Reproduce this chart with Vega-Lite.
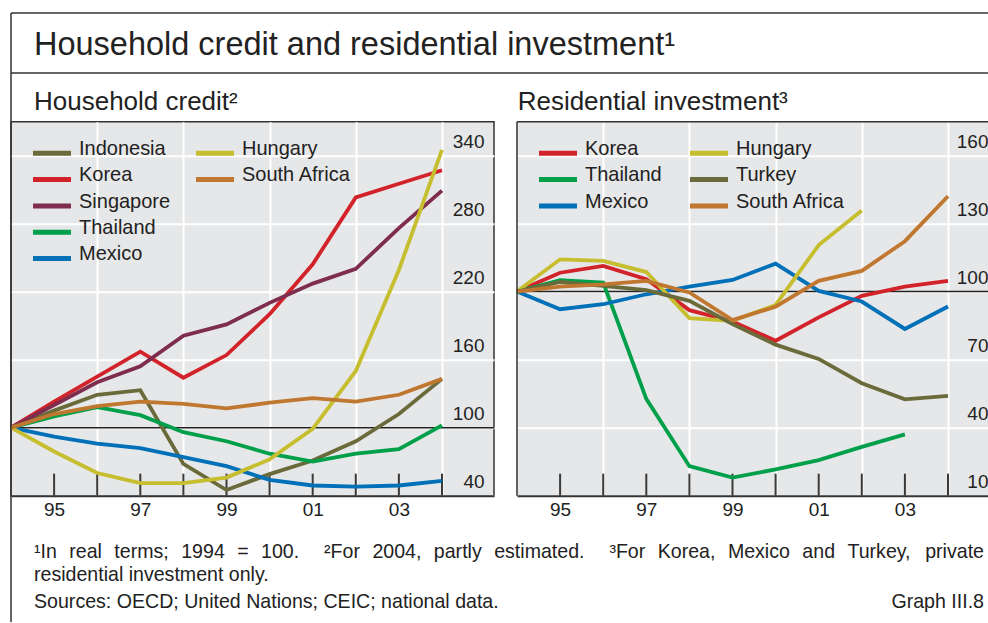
{
  "$schema": "https://vega.github.io/schema/vega-lite/v6.json",
  "padding": {"left": 2, "top": 10.7, "right": 0, "bottom": 0},
  "background": "white",
  "config": {
    "font": "Liberation Sans",
    "view": {"fill": "#e6e7e8", "stroke": null},
    "axis": {"labelFont": "Liberation Sans", "labelColor": "#222222", "labelFontSize": 19, "title": null, "labelFlush": false, "labelOverlap": false},
    "legend": {"labelFont": "Liberation Sans", "labelColor": "#222222", "labelFontSize": 20, "padding": 0,
      "symbolType": "M-4,0.905L4,0.905", "symbolSize": 90.25, "symbolStrokeWidth": 5, "labelOffset": 17, "rowPadding": 1.3, "direction": "vertical", "orient": "none", "title": null},
    "text": {"font": "Liberation Sans", "color": "#222222", "fontSize": 19.6, "align": "left", "baseline": "alphabetic"}
  },
  "datasets": {
    "credit": [
      {"country": "Indonesia", "year": 1994, "value": 100}, {"country": "Indonesia", "year": 1995, "value": 115}, {"country": "Indonesia", "year": 1996, "value": 129}, {"country": "Indonesia", "year": 1997, "value": 133}, {"country": "Indonesia", "year": 1998, "value": 68}, {"country": "Indonesia", "year": 1999, "value": 45}, {"country": "Indonesia", "year": 2000, "value": 59}, {"country": "Indonesia", "year": 2001, "value": 71}, {"country": "Indonesia", "year": 2002, "value": 88}, {"country": "Indonesia", "year": 2003, "value": 112}, {"country": "Indonesia", "year": 2004, "value": 143},
      {"country": "Korea", "year": 1994, "value": 100}, {"country": "Korea", "year": 1995, "value": 123}, {"country": "Korea", "year": 1996, "value": 145}, {"country": "Korea", "year": 1997, "value": 167}, {"country": "Korea", "year": 1998, "value": 144}, {"country": "Korea", "year": 1999, "value": 164}, {"country": "Korea", "year": 2000, "value": 200}, {"country": "Korea", "year": 2001, "value": 244}, {"country": "Korea", "year": 2002, "value": 303}, {"country": "Korea", "year": 2003, "value": 315}, {"country": "Korea", "year": 2004, "value": 327},
      {"country": "Singapore", "year": 1994, "value": 100}, {"country": "Singapore", "year": 1995, "value": 120}, {"country": "Singapore", "year": 1996, "value": 140}, {"country": "Singapore", "year": 1997, "value": 154}, {"country": "Singapore", "year": 1998, "value": 181}, {"country": "Singapore", "year": 1999, "value": 191}, {"country": "Singapore", "year": 2000, "value": 210}, {"country": "Singapore", "year": 2001, "value": 227}, {"country": "Singapore", "year": 2002, "value": 240}, {"country": "Singapore", "year": 2003, "value": 276}, {"country": "Singapore", "year": 2004, "value": 309},
      {"country": "Thailand", "year": 1994, "value": 100}, {"country": "Thailand", "year": 1995, "value": 110}, {"country": "Thailand", "year": 1996, "value": 118}, {"country": "Thailand", "year": 1997, "value": 111}, {"country": "Thailand", "year": 1998, "value": 96}, {"country": "Thailand", "year": 1999, "value": 88}, {"country": "Thailand", "year": 2000, "value": 77}, {"country": "Thailand", "year": 2001, "value": 70}, {"country": "Thailand", "year": 2002, "value": 77}, {"country": "Thailand", "year": 2003, "value": 81}, {"country": "Thailand", "year": 2004, "value": 102},
      {"country": "Mexico", "year": 1994, "value": 100}, {"country": "Mexico", "year": 1995, "value": 92}, {"country": "Mexico", "year": 1996, "value": 86}, {"country": "Mexico", "year": 1997, "value": 82}, {"country": "Mexico", "year": 1998, "value": 74}, {"country": "Mexico", "year": 1999, "value": 66}, {"country": "Mexico", "year": 2000, "value": 54}, {"country": "Mexico", "year": 2001, "value": 49}, {"country": "Mexico", "year": 2002, "value": 48}, {"country": "Mexico", "year": 2003, "value": 49}, {"country": "Mexico", "year": 2004, "value": 53},
      {"country": "Hungary", "year": 1994, "value": 100}, {"country": "Hungary", "year": 1995, "value": 79}, {"country": "Hungary", "year": 1996, "value": 60}, {"country": "Hungary", "year": 1997, "value": 51}, {"country": "Hungary", "year": 1998, "value": 51}, {"country": "Hungary", "year": 1999, "value": 56}, {"country": "Hungary", "year": 2000, "value": 72}, {"country": "Hungary", "year": 2001, "value": 99}, {"country": "Hungary", "year": 2002, "value": 150}, {"country": "Hungary", "year": 2003, "value": 239}, {"country": "Hungary", "year": 2004, "value": 345},
      {"country": "South Africa", "year": 1994, "value": 100}, {"country": "South Africa", "year": 1995, "value": 112}, {"country": "South Africa", "year": 1996, "value": 119}, {"country": "South Africa", "year": 1997, "value": 123}, {"country": "South Africa", "year": 1998, "value": 121}, {"country": "South Africa", "year": 1999, "value": 117}, {"country": "South Africa", "year": 2000, "value": 122}, {"country": "South Africa", "year": 2001, "value": 126}, {"country": "South Africa", "year": 2002, "value": 123}, {"country": "South Africa", "year": 2003, "value": 129}, {"country": "South Africa", "year": 2004, "value": 143}
    ],
    "investment": [
      {"country": "Korea", "year": 1994, "value": 100}, {"country": "Korea", "year": 1995, "value": 108.3}, {"country": "Korea", "year": 1996, "value": 111.3}, {"country": "Korea", "year": 1997, "value": 105.4}, {"country": "Korea", "year": 1998, "value": 91.8}, {"country": "Korea", "year": 1999, "value": 86.8}, {"country": "Korea", "year": 2000, "value": 78.3}, {"country": "Korea", "year": 2001, "value": 88.6}, {"country": "Korea", "year": 2002, "value": 98.1}, {"country": "Korea", "year": 2003, "value": 102.2}, {"country": "Korea", "year": 2004, "value": 104.7},
      {"country": "Thailand", "year": 1994, "value": 100}, {"country": "Thailand", "year": 1995, "value": 105}, {"country": "Thailand", "year": 1996, "value": 104}, {"country": "Thailand", "year": 1997, "value": 52.7}, {"country": "Thailand", "year": 1998, "value": 23}, {"country": "Thailand", "year": 1999, "value": 18}, {"country": "Thailand", "year": 2000, "value": 21.6}, {"country": "Thailand", "year": 2001, "value": 25.7}, {"country": "Thailand", "year": 2002, "value": 31.5}, {"country": "Thailand", "year": 2003, "value": 37},
      {"country": "Mexico", "year": 1994, "value": 100}, {"country": "Mexico", "year": 1995, "value": 92.2}, {"country": "Mexico", "year": 1996, "value": 94.4}, {"country": "Mexico", "year": 1997, "value": 98.8}, {"country": "Mexico", "year": 1998, "value": 102.2}, {"country": "Mexico", "year": 1999, "value": 105.1}, {"country": "Mexico", "year": 2000, "value": 112.3}, {"country": "Mexico", "year": 2001, "value": 100.3}, {"country": "Mexico", "year": 2002, "value": 95.6}, {"country": "Mexico", "year": 2003, "value": 83.5}, {"country": "Mexico", "year": 2004, "value": 93.4},
      {"country": "Hungary", "year": 1994, "value": 100}, {"country": "Hungary", "year": 1995, "value": 114.2}, {"country": "Hungary", "year": 1996, "value": 113.5}, {"country": "Hungary", "year": 1997, "value": 108.6}, {"country": "Hungary", "year": 1998, "value": 88.3}, {"country": "Hungary", "year": 1999, "value": 87.1}, {"country": "Hungary", "year": 2000, "value": 94.1}, {"country": "Hungary", "year": 2001, "value": 120.5}, {"country": "Hungary", "year": 2002, "value": 135.7},
      {"country": "Turkey", "year": 1994, "value": 100}, {"country": "Turkey", "year": 1995, "value": 104.2}, {"country": "Turkey", "year": 1996, "value": 102.5}, {"country": "Turkey", "year": 1997, "value": 100.6}, {"country": "Turkey", "year": 1998, "value": 95.9}, {"country": "Turkey", "year": 1999, "value": 85.7}, {"country": "Turkey", "year": 2000, "value": 76.6}, {"country": "Turkey", "year": 2001, "value": 70.3}, {"country": "Turkey", "year": 2002, "value": 59.6}, {"country": "Turkey", "year": 2003, "value": 52.5}, {"country": "Turkey", "year": 2004, "value": 54},
      {"country": "South Africa", "year": 1994, "value": 100}, {"country": "South Africa", "year": 1995, "value": 102.2}, {"country": "South Africa", "year": 1996, "value": 103.2}, {"country": "South Africa", "year": 1997, "value": 104.7}, {"country": "South Africa", "year": 1998, "value": 99.6}, {"country": "South Africa", "year": 1999, "value": 87.4}, {"country": "South Africa", "year": 2000, "value": 93.3}, {"country": "South Africa", "year": 2001, "value": 104.7}, {"country": "South Africa", "year": 2002, "value": 109.1}, {"country": "South Africa", "year": 2003, "value": 122.2}, {"country": "South Africa", "year": 2004, "value": 142}
    ]
  },
  "bounds": "flush",
  "spacing": 23,
  "resolve": {"scale": {"color": "independent", "stroke": "independent", "x": "independent", "y": "independent"}, "legend": {"color": "independent", "stroke": "independent"}},
  "hconcat": [
    {
      "width": 483,
      "height": 374,
      "view": {"stroke": "#333333", "strokeWidth": 1.5},
      "resolve": {"axis": {"x": "independent"}},
      "layer": [
        {
          "data": {"values": [{}]},
          "mark": {"type": "rule", "color": "#222222", "strokeWidth": 1.5},
          "encoding": {"y": {"datum": 100, "type": "quantitative"}}
        },
        {
          "data": {"name": "credit"},
          "transform": [{"filter": "datum.country == 'Korea' && datum.year >= 1995"}],
          "mark": {"type": "rule", "color": "#3a3a3a", "strokeWidth": 2},
          "encoding": {"x": {"field": "year", "type": "quantitative", "axis": null}, "y": {"datum": 40, "type": "quantitative"}, "y2": {"datum": 59.4}}
        },
        {
          "data": {"name": "credit"},
          "transform": [{"filter": {"field": "country", "oneOf": ["Indonesia", "Korea", "Singapore", "Thailand", "Mexico"]}}],
          "mark": {"type": "line", "strokeWidth": 3.8},
          "encoding": {
            "x": {"field": "year", "type": "quantitative", "scale": {"domain": [1994, 2005.207], "nice": false, "zero": false},
              "axis": {"orient": "bottom", "values": [1995, 1997, 1999, 2001, 2003],
                "labelExpr": "slice(toString(datum.value), 2)",
                "grid": false, "ticks": false, "tickSize": 0,
                "domain": true, "domainColor": "#333333", "domainWidth": 2, "labelPadding": 5}},
            "y": {"field": "value", "type": "quantitative", "scale": {"domain": [40, 369.76], "nice": false, "zero": false},
              "axis": {"orient": "right", "values": [40, 100, 160, 220, 280, 340], "grid": true, "gridColor": "white", "gridWidth": 2,
                "ticks": false, "domain": false, "labelAlign": "right", "labelBaseline": "alphabetic", "labelPadding": -10, "labelOffset": -8}},
            "color": {"field": "country", "type": "nominal",
              "scale": {"domain": ["Indonesia", "Korea", "Singapore", "Thailand", "Mexico"], "range": ["#6b6a3b", "#d2232a", "#7e2d4f", "#00a04a", "#0070b8"]},
              "legend": {"legendX": 31, "legendY": 17.3}}
          }
        },
        {
          "data": {"name": "credit"},
          "transform": [{"filter": {"field": "country", "oneOf": ["Hungary", "South Africa"]}}],
          "mark": {"type": "line", "strokeWidth": 3.8},
          "encoding": {
            "x": {"field": "year", "type": "quantitative",
              "axis": {"orient": "top", "values": [1996, 1998, 2000, 2002, 2004], "labels": false, "domain": false, "ticks": false,
                "grid": true, "gridColor": "white", "gridWidth": 2, "zindex": 0}},
            "y": {"field": "value", "type": "quantitative"},
            "stroke": {"field": "country", "type": "nominal",
              "scale": {"domain": ["Hungary", "South Africa"], "range": ["#c6be2e", "#c0772f"]},
              "legend": {"legendX": 194, "legendY": 17.3}}
          }
        },
        {
          "data": {"values": [{}]},
          "mark": {"type": "rule", "color": "#333333", "strokeWidth": 1.5, "clip": false},
          "encoding": {"x": {"datum": 1994, "type": "quantitative", "axis": null}, "x2": {"datum": 2016.669}, "y": {"datum": 465.6, "type": "quantitative"}}
        },
        {
          "data": {"values": [{}]},
          "mark": {"type": "rule", "color": "#666666", "strokeWidth": 2, "clip": false},
          "encoding": {"x": {"datum": 1994, "type": "quantitative", "axis": null}, "x2": {"datum": 2016.669}, "y": {"datum": 412.7, "type": "quantitative"}}
        },
        {
          "data": {"values": [{}]},
          "mark": {"type": "rule", "color": "#333333", "strokeWidth": 1.5, "clip": false},
          "encoding": {"x": {"datum": 1994, "type": "quantitative", "axis": null}, "y": {"datum": 465.6, "type": "quantitative"}, "y2": {"datum": -71.35}}
        },
        {
          "data": {"values": [{"t": "Household credit and residential investment¹"}]},
          "mark": {"type": "text", "fontSize": 32.5, "clip": false},
          "encoding": {"x": {"datum": 1994.534, "type": "quantitative", "axis": null}, "y": {"datum": 429.0, "type": "quantitative"}, "text": {"field": "t"}}
        },
        {
          "data": {"values": [{"t": "Household credit²"}]},
          "mark": {"type": "text", "fontSize": 26, "clip": false},
          "encoding": {"x": {"datum": 1994.534, "type": "quantitative", "axis": null}, "y": {"datum": 379.8, "type": "quantitative"}, "text": {"field": "t"}}
        },
        {"data": {"values": [{"t": "¹In"}]}, "mark": {"type": "text", "clip": false},
          "encoding": {"x": {"datum": 1994.5337, "type": "quantitative", "axis": null}, "y": {"datum": -14.7, "type": "quantitative"}, "text": {"field": "t"}}},
        {"data": {"values": [{"t": "real"}]}, "mark": {"type": "text", "clip": false},
          "encoding": {"x": {"datum": 1995.3523, "type": "quantitative", "axis": null}, "y": {"datum": -14.7, "type": "quantitative"}, "text": {"field": "t"}}},
        {"data": {"values": [{"t": "terms;"}]}, "mark": {"type": "text", "clip": false},
          "encoding": {"x": {"datum": 1996.3983, "type": "quantitative", "axis": null}, "y": {"datum": -14.7, "type": "quantitative"}, "text": {"field": "t"}}},
        {"data": {"values": [{"t": "1994"}]}, "mark": {"type": "text", "clip": false},
          "encoding": {"x": {"datum": 1997.9496, "type": "quantitative", "axis": null}, "y": {"datum": -14.7, "type": "quantitative"}, "text": {"field": "t"}}},
        {"data": {"values": [{"t": "="}]}, "mark": {"type": "text", "clip": false},
          "encoding": {"x": {"datum": 1999.249, "type": "quantitative", "axis": null}, "y": {"datum": -14.7, "type": "quantitative"}, "text": {"field": "t"}}},
        {"data": {"values": [{"t": "100."}]}, "mark": {"type": "text", "clip": false},
          "encoding": {"x": {"datum": 1999.8026, "type": "quantitative", "axis": null}, "y": {"datum": -14.7, "type": "quantitative"}, "text": {"field": "t"}}},
        {"data": {"values": [{"t": "²For"}]}, "mark": {"type": "text", "clip": false},
          "encoding": {"x": {"datum": 2001.2634, "type": "quantitative", "axis": null}, "y": {"datum": -14.7, "type": "quantitative"}, "text": {"field": "t"}}},
        {"data": {"values": [{"t": "2004,"}]}, "mark": {"type": "text", "clip": false},
          "encoding": {"x": {"datum": 2002.3851, "type": "quantitative", "axis": null}, "y": {"datum": -14.7, "type": "quantitative"}, "text": {"field": "t"}}},
        {"data": {"values": [{"t": "partly"}]}, "mark": {"type": "text", "clip": false},
          "encoding": {"x": {"datum": 2003.8109, "type": "quantitative", "axis": null}, "y": {"datum": -14.7, "type": "quantitative"}, "text": {"field": "t"}}},
        {"data": {"values": [{"t": "estimated."}]}, "mark": {"type": "text", "clip": false},
          "encoding": {"x": {"datum": 2005.2107, "type": "quantitative", "axis": null}, "y": {"datum": -14.7, "type": "quantitative"}, "text": {"field": "t"}}},
        {"data": {"values": [{"t": "³For"}]}, "mark": {"type": "text", "clip": false},
          "encoding": {"x": {"datum": 2007.8844, "type": "quantitative", "axis": null}, "y": {"datum": -14.7, "type": "quantitative"}, "text": {"field": "t"}}},
        {"data": {"values": [{"t": "Korea,"}]}, "mark": {"type": "text", "clip": false},
          "encoding": {"x": {"datum": 2009.006, "type": "quantitative", "axis": null}, "y": {"datum": -14.7, "type": "quantitative"}, "text": {"field": "t"}}},
        {"data": {"values": [{"t": "Mexico"}]}, "mark": {"type": "text", "clip": false},
          "encoding": {"x": {"datum": 2010.6337, "type": "quantitative", "axis": null}, "y": {"datum": -14.7, "type": "quantitative"}, "text": {"field": "t"}}},
        {"data": {"values": [{"t": "and"}]}, "mark": {"type": "text", "clip": false},
          "encoding": {"x": {"datum": 2012.3619, "type": "quantitative", "axis": null}, "y": {"datum": -14.7, "type": "quantitative"}, "text": {"field": "t"}}},
        {"data": {"values": [{"t": "Turkey,"}]}, "mark": {"type": "text", "clip": false},
          "encoding": {"x": {"datum": 2013.4083, "type": "quantitative", "axis": null}, "y": {"datum": -14.7, "type": "quantitative"}, "text": {"field": "t"}}},
        {"data": {"values": [{"t": "private"}]}, "mark": {"type": "text", "align": "right", "clip": false},
          "encoding": {"x": {"datum": 2016.576, "type": "quantitative", "axis": null}, "y": {"datum": -14.7, "type": "quantitative"}, "text": {"field": "t"}}},
        {
          "data": {"values": [{"t": "residential investment only."}]},
          "mark": {"type": "text", "clip": false},
          "encoding": {"x": {"datum": 1994.534, "type": "quantitative", "axis": null}, "y": {"datum": -35.2, "type": "quantitative"}, "text": {"field": "t"}}
        },
        {
          "data": {"values": [{"t": "Sources: OECD; United Nations; CEIC; national data."}]},
          "mark": {"type": "text", "clip": false},
          "encoding": {"x": {"datum": 1994.534, "type": "quantitative", "axis": null}, "y": {"datum": -58.7, "type": "quantitative"}, "text": {"field": "t"}}
        },
        {
          "data": {"values": [{"t": "Graph III.8"}]},
          "mark": {"type": "text", "align": "right", "clip": false},
          "encoding": {"x": {"datum": 2016.576, "type": "quantitative", "axis": null}, "y": {"datum": -58.7, "type": "quantitative"}, "text": {"field": "t"}}
        }
      ]
    },
    {
      "width": 472,
      "height": 374,
      "view": {"stroke": null},
      "resolve": {"axis": {"x": "independent"}},
      "layer": [
        {
          "data": {"values": [{}]},
          "mark": {"type": "rule", "color": "#222222", "strokeWidth": 1.5},
          "encoding": {"y": {"datum": 100, "type": "quantitative"}}
        },
        {
          "data": {"name": "investment"},
          "transform": [{"filter": "datum.country == 'Korea' && datum.year >= 1995"}],
          "mark": {"type": "rule", "color": "#3a3a3a", "strokeWidth": 2},
          "encoding": {"x": {"field": "year", "type": "quantitative", "axis": null}, "y": {"datum": 10, "type": "quantitative"}, "y2": {"datum": 19.7}}
        },
        {
          "data": {"name": "investment"},
          "transform": [{"filter": {"field": "country", "oneOf": ["Korea", "Thailand", "Mexico"]}}],
          "mark": {"type": "line", "strokeWidth": 3.8},
          "encoding": {
            "x": {"field": "year", "type": "quantitative", "scale": {"domain": [1994, 2004.951], "nice": false, "zero": false},
              "axis": {"orient": "bottom", "values": [1995, 1997, 1999, 2001, 2003],
                "labelExpr": "slice(toString(datum.value), 2)",
                "grid": false, "ticks": false, "tickSize": 0,
                "domain": true, "domainColor": "#333333", "domainWidth": 2, "labelPadding": 5}},
            "y": {"field": "value", "type": "quantitative", "scale": {"domain": [10, 174.88], "nice": false, "zero": false},
              "axis": {"orient": "right", "values": [10, 40, 70, 100, 130, 160], "grid": true, "gridColor": "white", "gridWidth": 2,
                "ticks": false, "domain": false, "labelAlign": "right", "labelBaseline": "alphabetic", "labelPadding": -1, "labelOffset": -8}},
            "color": {"field": "country", "type": "nominal",
              "scale": {"domain": ["Korea", "Thailand", "Mexico"], "range": ["#d2232a", "#00a04a", "#0070b8"]},
              "legend": {"legendX": 31, "legendY": 17.3}}
          }
        },
        {
          "data": {"name": "investment"},
          "transform": [{"filter": {"field": "country", "oneOf": ["Hungary", "Turkey", "South Africa"]}}],
          "mark": {"type": "line", "strokeWidth": 3.8},
          "encoding": {
            "x": {"field": "year", "type": "quantitative",
              "axis": {"orient": "top", "values": [1996, 1998, 2000, 2002, 2004], "labels": false, "domain": false, "ticks": false,
                "grid": true, "gridColor": "white", "gridWidth": 2, "zindex": 0}},
            "y": {"field": "value", "type": "quantitative"},
            "stroke": {"field": "country", "type": "nominal",
              "scale": {"domain": ["Hungary", "Turkey", "South Africa"], "range": ["#c6be2e", "#6b6a3b", "#c0772f"]},
              "legend": {"legendX": 182, "legendY": 17.3}}
          }
        },
        {
          "data": {"values": [{}]},
          "mark": {"type": "rule", "color": "#333333", "strokeWidth": 1.5, "clip": false},
          "encoding": {"x": {"datum": 1994, "type": "quantitative", "axis": null}, "x2": {"datum": 2004.951}, "y": {"datum": 174.88, "type": "quantitative"}}
        },
        {
          "data": {"values": [{}]},
          "mark": {"type": "rule", "color": "#333333", "strokeWidth": 1.5, "clip": false},
          "encoding": {"x": {"datum": 1994, "type": "quantitative", "axis": null}, "y": {"datum": 10, "type": "quantitative"}, "y2": {"datum": 174.88}}
        },
        {
          "data": {"values": [{"t": "Residential investment³"}]},
          "mark": {"type": "text", "fontSize": 26, "clip": false},
          "encoding": {"x": {"datum": 1994.016, "type": "quantitative", "axis": null}, "y": {"datum": 179.9, "type": "quantitative"}, "text": {"field": "t"}}
        }
      ]
    }
  ]
}
